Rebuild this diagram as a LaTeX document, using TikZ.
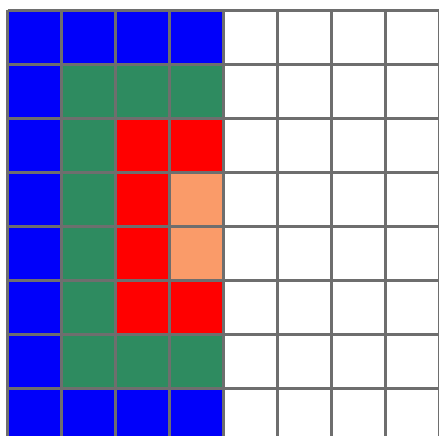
\documentclass[tikz,border=0pt]{standalone}
\definecolor{cblue}{RGB}{0,0,250}
\definecolor{cgreen}{RGB}{46,139,96}
\definecolor{cred}{RGB}{255,0,0}
\definecolor{csalmon}{RGB}{250,155,105}
\definecolor{cline}{RGB}{110,110,110}
\tikzset{gridline/.style={draw=cline,line width=2.6pt}}
\begin{document}
\begin{tikzpicture}[x=1pt,y=-1pt]
\useasboundingbox (0,0) rectangle (439,436);
\clip (0,0) rectangle (439,436);
\fill[white] (0,0) rectangle (439,436);
\def\cw{54}
\def\ch{54}
\def\ox{7.5}
\def\oy{10.5}
% cell fill macro
\newcommand{\cellfill}[3]{\fill[#3] (\ox+#1*\cw,\oy+#2*\ch) rectangle ++(\cw,\ch);}
% row 0
\foreach \c in {0,1,2,3} {\cellfill{\c}{0}{cblue}}
% rows 1-6 first column
\foreach \r in {1,...,7} {\cellfill{0}{\r}{cblue}}
\foreach \c in {1,2,3} {\cellfill{\c}{7}{cblue}}
% green
\foreach \c in {1,2,3} {\cellfill{\c}{1}{cgreen}\cellfill{\c}{6}{cgreen}}
\foreach \r in {2,3,4,5} {\cellfill{1}{\r}{cgreen}}
% red
\foreach \r in {2,3,4,5} {\cellfill{2}{\r}{cred}}
\cellfill{3}{2}{cred}
\cellfill{3}{5}{cred}
\cellfill{3}{3}{csalmon}
\cellfill{3}{4}{csalmon}
% grid
\foreach \i in {0,...,8} {
  \draw[gridline] (\ox+\i*\cw,\oy) -- (\ox+\i*\cw,\oy+8*\ch);
  \draw[gridline] (\ox,\oy+\i*\ch) -- (\ox+8*\cw,\oy+\i*\ch);
}
\end{tikzpicture}
\end{document}
